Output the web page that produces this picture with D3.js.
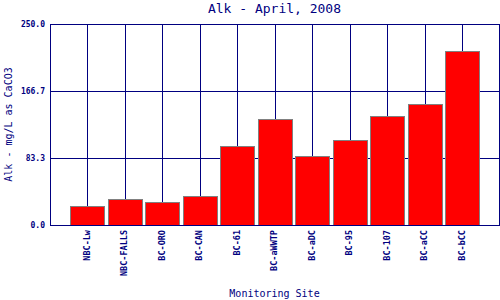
<!DOCTYPE html>
<meta charset="utf-8">
<style>
body{margin:0;background:#fff;}
svg text{font-family:"DejaVu Sans Mono",monospace;fill:#000080;}
</style>
<svg id="chart" width="500" height="300"></svg>
<script src="https://d3js.org/d3.v7.min.js"></script>
<script>
// sites along the x axis, alkalinity in mg/L as CaCO3
const sites = ['NBC-Lw','NBC-FALLS','BC-ORO','BC-CAN','BC-61','BC-aWWTP','BC-aDC','BC-95','BC-107','BC-aCC','BC-bCC']
const alk = [23.6, 32.3, 28.6, 36, 98.3, 132.2, 86.2, 105.7, 135, 150.5, 216.4]
const yTicks = [0, 83.3, 166.7, 250]

const navy = '#000080'
let svg = d3.select('#chart')

let x = d3.scalePoint().domain(sites).range([50, 500]).padding(1)
let y = d3.scaleLinear().domain([0, 250]).range([225, 24])
let barW = 34
let px = d => Math.floor(x(d)) + 0.5

// grid
svg.selectAll('line.vg').data(sites).enter().append('line')
  .attr('x1', px).attr('x2', px)
  .attr('y1', y(250)).attr('y2', y(0))
  .attr('stroke', navy)
svg.selectAll('line.hg').data(yTicks).enter().append('line')
  .attr('x1', 50).attr('x2', 499)
  .attr('y1', d => Math.round(y(d)) + 0.5).attr('y2', d => Math.round(y(d)) + 0.5)
  .attr('stroke', navy)

// bars
svg.selectAll('rect.bar').data(alk).enter().append('rect')
  .attr('x', (d, i) => px(sites[i]) - barW / 2)
  .attr('width', barW)
  .attr('y', d => Math.round(y(d)) + 0.5)
  .attr('height', d => y(0) - Math.round(y(d)))
  .attr('fill', '#ff0000').attr('stroke', '#808080')

// frame
svg.append('rect').attr('x', 50.5).attr('y', 24.5).attr('width', 449).attr('height', 201)
  .attr('fill', 'none').attr('stroke', navy)

// y ticks
svg.selectAll('text.yt').data(yTicks).enter().append('text')
  .attr('x', 45).attr('y', d => y(d) + 3)
  .attr('text-anchor', 'end')
  .style('font-size', '8px').style('font-weight', 'bold')
  .text(d => d.toFixed(1))

// x ticks
svg.selectAll('text.xt').data(sites).enter().append('text')
  .attr('transform', d => `translate(${x(d) + 2},230) rotate(-90)`)
  .attr('text-anchor', 'end')
  .style('font-size', '8.5px').style('font-weight', 'bold')
  .text(d => d)

// titles
svg.append('text').attr('x', 274.5).attr('y', 13).attr('text-anchor', 'middle')
  .style('font-size', '13px').text('Alk - April, 2008')
svg.append('text').attr('x', 274.5).attr('y', 297).attr('text-anchor', 'middle')
  .style('font-size', '10px').text('Monitoring Site')
svg.append('text').attr('transform', 'translate(12,124.5) rotate(-90)').attr('text-anchor', 'middle')
  .style('font-size', '10px').text('Alk - mg/L as CaCO3')
</script>
